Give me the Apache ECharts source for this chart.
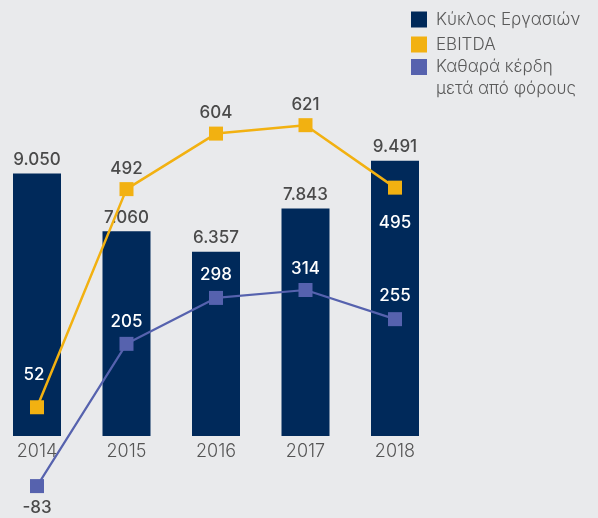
<!DOCTYPE html>
<html>
<head>
<meta charset="utf-8">
<title>Οικονομικά μεγέθη</title>
<script src="https://cdn.jsdelivr.net/npm/echarts@6/dist/echarts.min.js"></script>
<style>
  html, body { margin: 0; padding: 0; background: #e9eaec; }
  #chart { width: 598px; height: 518px; }
</style>
</head>
<body>
<div id="chart"></div>
<script>
// data (εκατ. ευρώ)
const years = ['2014', '2015', '2016', '2017', '2018'];
const turnover = [9050, 7060, 6357, 7843, 9491];
const ebitda = [52, 492, 604, 621, 495];
const netProfit = [-83, 205, 298, 314, 255];

const NAME_BAR = 'Κύκλος Εργασιών';
const NAME_EBITDA = 'EBITDA';
const NAME_NET = 'Καθαρά κέρδη μετά από φόρους';

const navy = '#00295a';
const orange = '#f2b111';
const purple = '#5662ae';
const darkText = '#4a4a4a';
const fontFamily = 'Inter, Lato, sans-serif';

// 9050 -> 9.050
function fmtThousands(v) {
  return String(v).replace(/\B(?=(\d{3})+(?!\d))/g, '.');
}

// label tweaks per point (white inside the bars)
const ebitdaLabels = [
  { position: 'top', color: '#fff', distance: 17, offset: [-3, 0] },
  { position: 'top', color: darkText },
  { position: 'top', color: darkText },
  { position: 'top', color: darkText },
  { position: 'bottom', color: '#fff', distance: 20 }
];
const netLabels = [
  { position: 'bottom', color: darkText, distance: 6 },
  { position: 'top', color: '#fff', distance: 6 },
  { position: 'top', color: '#fff', distance: 8 },
  { position: 'top', color: '#fff', distance: 6 },
  { position: 'top', color: '#fff', distance: 8 }
];

const chart = echarts.init(document.getElementById('chart'));

chart.setOption({
  backgroundColor: '#e9eaec',
  textStyle: { fontFamily: fontFamily },
  animation: false,
  legend: [
    {
      data: [NAME_BAR, NAME_EBITDA],
      orient: 'vertical',
      left: 411,
      top: 11,
      padding: 0,
      icon: 'rect',
      itemWidth: 16,
      itemHeight: 16,
      itemGap: 8,
      textStyle: { fontSize: 17, lineHeight: 16, fontWeight: 300, color: '#5a5a5a', padding: [0, 0, 0, 4] }
    },
    {
      data: [NAME_NET],
      orient: 'vertical',
      left: 411,
      top: 34,
      padding: 0,
      icon: 'rect',
      itemWidth: 16,
      itemHeight: 16,
      // empty first line so the icon sits next to the first text line
      formatter: function () { return '\nΚαθαρά κέρδη\nμετά από φόρους'; },
      textStyle: { fontSize: 17, lineHeight: 22, fontWeight: 300, color: '#5a5a5a', padding: [0, 0, 0, 4] }
    }
  ],
  grid: { left: 37, right: 203, top: 88, bottom: 24 },
  xAxis: {
    type: 'category',
    data: years,
    boundaryGap: false,
    // zero of the bar axis is 58px above the grid bottom
    offset: -58,
    axisLine: { show: false },
    axisTick: { show: false },
    axisLabel: { margin: 7, fontSize: 18, fontWeight: 300, color: '#555', fontFamily: fontFamily },
    splitLine: { show: false }
  },
  yAxis: [
    { type: 'value', min: -2000, max: 12000, show: false, splitLine: { show: false } },
    { type: 'value', min: -123, max: 696, show: false, splitLine: { show: false } },
    { type: 'value', min: -99, max: 723, show: false, splitLine: { show: false } }
  ],
  series: [
    {
      name: NAME_BAR,
      type: 'bar',
      yAxisIndex: 0,
      data: turnover,
      barWidth: 48,
      itemStyle: { color: navy },
      label: {
        show: true,
        position: 'top',
        distance: 5,
        fontSize: 17,
        fontWeight: 500,
        color: darkText,
        formatter: function (p) { return fmtThousands(p.value); }
      },
      z: 2
    },
    {
      name: NAME_EBITDA,
      type: 'line',
      yAxisIndex: 1,
      data: ebitda.map(function (v, i) { return { value: v, label: ebitdaLabels[i] }; }),
      symbol: 'rect',
      symbolSize: 14,
      lineStyle: { color: orange, width: 2.5 },
      itemStyle: { color: orange },
      label: { show: true, fontSize: 17, fontWeight: 500, distance: 5 },
      z: 3
    },
    {
      name: NAME_NET,
      type: 'line',
      yAxisIndex: 2,
      data: netProfit.map(function (v, i) { return { value: v, label: netLabels[i] }; }),
      symbol: 'rect',
      symbolSize: 14,
      lineStyle: { color: purple, width: 2.2 },
      itemStyle: { color: purple },
      label: { show: true, fontSize: 17, fontWeight: 500 },
      z: 4
    }
  ]
});

window.addEventListener('resize', function () { chart.resize(); });
</script>
</body>
</html>
